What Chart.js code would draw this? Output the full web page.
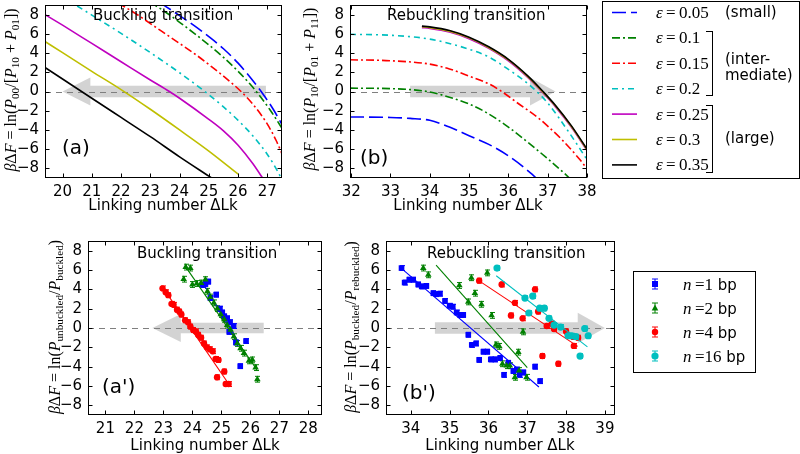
<!DOCTYPE html>
<html><head><meta charset="utf-8">
<script src="https://cdn.jsdelivr.net/npm/chart.js@4.4.1/dist/chart.umd.min.js"></script>
<style>
html,body{margin:0;padding:0;background:#fff;}
body{width:800px;height:454px;position:relative;overflow:hidden;font-family:'DejaVu Sans',sans-serif;color:#000;}
canvas{position:absolute;}
.t{position:absolute;white-space:nowrap;line-height:1;font-size:15px;}
.lab{position:absolute;white-space:nowrap;line-height:1;font-size:20px;}
.xt{position:absolute;white-space:nowrap;line-height:1;font-size:15px;transform:translateX(-50%);}
.yt{position:absolute;white-space:nowrap;font-family:'Liberation Serif',serif;font-size:16px;line-height:1;transform:translate(-50%,-50%) rotate(-90deg);}
sub{font-size:0.7em;vertical-align:-0.3em;line-height:0;}
.box{position:absolute;border:1px solid #000;box-sizing:border-box;background:#fff;}
.m{font-family:'Liberation Serif',serif;font-size:17px;}
.br{position:absolute;border:1px solid #000;border-left:none;box-sizing:border-box;}
</style></head><body>

<div class="box" style="left:602px;top:1px;width:198px;height:178px"></div>
<div class="box" style="left:633px;top:271px;width:123px;height:102px"></div>
<canvas id="cA"></canvas>
<canvas id="cB"></canvas>
<canvas id="cA2"></canvas>
<canvas id="cB2"></canvas>
<svg id="legSvg" width="800" height="454" style="position:absolute;left:0;top:0"></svg>
<div id="texts"></div>

<script>
// ---------------- DATA ----------------
const ticksA  = [20,21,22,23,24,25,26,27];
const ticksB  = [32,33,34,35,36,37,38];
const ticksA2 = [21,22,23,24,25,26,27,28];
const ticksB2 = [34,35,36,37,38,39];
const ticksY  = [-8,-6,-4,-2,0,2,4,6,8];

const epsLabels = ['0.05','0.1','0.15','0.2','0.25','0.3','0.35'];
const nLabels = ['1','2','4','16'];

// (a) buckling transition curves  [ΔLk, βΔF]
const aEps005 = [[23.3,9.3],[24.0,7.9],[24.5,6.85],[25.0,5.7],[25.5,4.45],[26.0,2.95],[26.5,1.15],[26.8,-0.05],[27.2,-1.85],[27.6,-4.0]];
const aEps010 = [[23.0,9.3],[23.5,8.3],[24.0,7.2],[24.5,6.05],[25.0,4.85],[25.5,3.55],[26.0,2.1],[26.4,0.8],[26.7,-0.3],[27.1,-1.95],[27.6,-4.3]];
const aEps015 = [[21.9,9.2],[22.5,8.1],[23.37,6.3],[24.0,5.0],[24.57,3.8],[25.0,2.8],[25.5,1.6],[26.1,0.0],[26.5,-1.3],[27.0,-3.4],[27.3,-5.1],[27.6,-7.2]];
const aEps020 = [[20.5,8.9],[21.0,7.95],[22.0,6.05],[23.0,4.05],[24.0,1.95],[24.86,0.0],[25.5,-1.6],[26.0,-3.0],[26.5,-4.6],[27.0,-6.55],[27.35,-8.3],[27.6,-9.8]];
const aEps025 = [[19.4,8.0],[20.0,6.9],[21.0,5.0],[22.0,3.1],[23.0,1.2],[23.65,0.0],[24.0,-0.7],[25.0,-2.9],[25.5,-4.1],[26.0,-5.6],[26.5,-7.5],[26.9,-9.3]];
const aEps030 = [[19.4,5.2],[20.0,4.05],[21.0,2.1],[22.0,0.2],[23.0,-1.85],[24.0,-4.0],[25.0,-6.2],[26.0,-8.6]];
const aEps035 = [[19.4,2.5],[20.0,1.3],[21.0,-0.7],[22.0,-2.7],[23.0,-4.7],[24.0,-6.8],[25.0,-8.8],[25.3,-9.4]];

// (b) rebuckling transition curves
const bEps005 = [[31.97,-2.65],[33.0,-2.7],[33.5,-2.8],[34.0,-3.0],[34.5,-3.7],[35.0,-4.6],[35.5,-5.5],[36.0,-6.7],[36.6,-8.6],[36.85,-9.6]];
const bEps010 = [[31.97,0.35],[33.0,0.3],[33.5,0.2],[34.0,-0.05],[34.5,-0.6],[35.0,-1.3],[35.4,-2.1],[36.0,-3.7],[36.5,-5.3],[37.0,-7.0],[37.5,-8.8],[37.8,-10.0]];
const bEps015 = [[31.97,3.3],[33.0,3.2],[34.0,2.85],[34.5,2.35],[35.0,1.6],[35.5,0.8],[35.83,0.0],[36.2,-1.1],[36.76,-2.75],[37.0,-3.6],[37.36,-5.0],[37.8,-7.0],[38.05,-8.3]];
const bEps020 = [[31.97,5.95],[33.0,5.85],[34.0,5.45],[35.0,4.4],[35.5,3.6],[36.0,2.3],[36.5,0.8],[36.72,0.0],[37.0,-1.2],[37.5,-4.0],[38.05,-7.4]];
const bEps025 = [[33.8,6.65],[34.0,6.57],[34.5,6.2],[35.0,5.5],[35.5,4.5],[36.0,3.2],[36.5,1.45],[36.88,-0.15],[37.2,-1.6],[37.6,-3.7],[38.05,-6.45]];
const bEps030 = [[33.8,6.73],[34.0,6.65],[34.5,6.28],[35.0,5.58],[35.5,4.58],[36.0,3.28],[36.5,1.53],[36.88,-0.07],[37.2,-1.52],[37.6,-3.62],[38.05,-6.37]];
const bEps035 = [[33.8,6.8],[34.0,6.72],[34.5,6.35],[35.0,5.65],[35.5,4.65],[36.0,3.35],[36.5,1.6],[36.88,0.0],[37.2,-1.45],[37.6,-3.55],[38.05,-6.3]];

// (a') simulation points, buckling
const a2N1 = [[24.35,4.45],[24.45,4.55],[24.55,4.8],[24.62,3.1],[24.82,3.45],[24.95,2.0],[25.03,1.6],[25.1,1.2],[25.2,1.0],[25.3,0.6],[25.42,0.2],[25.27,-0.4],[25.5,-1.5],[25.85,-1.35],[25.65,-3.95]];
const a2N2 = [[23.77,6.3],[23.93,6.2],[23.7,5.05],[24.0,4.5],[24.15,4.6],[24.3,4.65],[24.45,5.0],[24.52,3.8],[24.62,3.2],[24.74,2.6],[24.86,2.0],[24.98,1.4],[25.1,0.9],[25.2,0.3],[25.32,-0.2],[25.43,-0.9],[25.55,-1.6],[25.66,-2.1],[25.78,-2.6],[25.95,-3.4],[26.07,-3.3],[26.18,-4.1],[26.24,-5.3]];
const a2N4 = [[22.97,4.1],[23.08,3.7],[23.17,3.4],[23.28,2.5],[23.35,2.4],[23.47,1.9],[23.55,1.7],[23.62,1.4],[23.75,0.8],[23.85,0.6],[23.93,0.15],[24.03,-0.2],[24.12,-0.35],[24.2,-0.7],[24.3,-1.0],[24.4,-1.6],[24.5,-2.0],[24.6,-2.2],[24.7,-2.4],[24.8,-3.2],[24.9,-3.3],[24.85,-5.1],[25.1,-4.5],[25.15,-5.8],[25.25,-5.8]];
const a2FitN1 = [[24.35,4.7],[25.6,-1.5]];
const a2FitN2 = [[23.75,6.4],[26.2,-4.2]];
const a2FitN4 = [[23.0,4.1],[25.3,-6.0]];

// (b') simulation points, rebuckling
const b2N1 = [[33.76,6.2],[33.84,4.7],[33.96,5.0],[34.06,5.0],[34.19,4.5],[34.28,4.3],[34.4,4.35],[34.58,3.6],[34.66,3.5],[34.75,3.55],[34.88,2.8],[35.0,2.3],[35.08,2.2],[35.18,1.6],[35.27,1.35],[35.35,1.35],[35.48,-0.7],[35.57,-1.75],[35.68,-1.6],[35.76,-3.3],[35.87,-2.45],[35.97,-2.45],[36.06,-3.25],[36.17,-3.25],[36.3,-3.1],[36.4,-4.85],[36.51,-3.6],[36.64,-4.45],[36.73,-4.3],[36.8,-4.85],[36.9,-4.6],[37.2,-4.0],[37.33,-5.5]];
const b2N2 = [[34.32,6.2],[34.45,5.5],[35.25,4.4],[35.56,5.2],[35.97,5.7],[35.65,3.6],[35.48,2.7],[35.82,2.45],[36.08,1.3],[36.89,-0.4],[36.19,-1.75],[36.28,-1.9],[36.36,-3.7],[36.47,-3.9],[36.55,-3.9],[36.77,-2.5],[36.68,-5.1],[36.79,-4.4],[36.98,-5.1]];
const b2N4 = [[35.76,4.9],[36.34,4.5],[36.68,2.6],[36.58,1.3],[36.88,1.0],[37.2,4.0],[37.28,1.7],[37.39,-2.9],[37.5,0.2],[37.63,0.45],[37.69,-0.1],[37.8,-3.7],[38.0,-0.35],[38.18,-0.9],[38.2,-1.85],[38.31,-1.0]];
const b2N16 = [[36.22,6.2],[36.94,3.1],[37.14,3.3],[37.04,1.55],[37.32,2.05],[37.44,2.05],[37.56,1.0],[37.69,0.3],[37.86,0.1],[38.05,-0.8],[38.14,-0.8],[38.25,-0.9],[38.36,-2.9],[38.48,-0.05],[38.57,-0.8]];
const b2FitN1 = [[33.75,6.2],[37.3,-6.1]];
const b2FitN2 = [[34.65,6.5],[37.0,-4.1]];
const b2FitN4 = [[35.75,4.9],[38.3,-1.9]];
const b2FitN16 = [[36.2,5.4],[38.55,-1.95]];

// error bar half-widths (βΔF units)
const errN1 = 0.25, errN2 = 0.3, errN4 = 0.25, errN16 = 0.25;

// ---------------- STYLE ----------------
const epsColors = ['#0000ff','#008000','#ff0000','#00bfbf','#bf00bf','#bfbf00','#000000'];
const epsDash = [[14,5],[8,3,2,3],[8,3,2,3],[6,4,2,4],[],[],[]];
const nColors = ['#0000ff','#008000','#ff0000','#00bfbf'];
const nStyles = ['rect','triangle','circle','circle'];
const nRadius = [4,3.8,3.2,3.6];

Chart.defaults.font.family = "'DejaVu Sans', sans-serif";
Chart.defaults.font.size = 15;
Chart.defaults.color = '#000';

const toXY = arr => arr.map(p => ({x:p[0], y:p[1]}));
const minus = v => v < 0 ? '\u2212' + Math.abs(v) : String(v);

const arrowPlugin = {
  id: 'arrow',
  beforeDatasetsDraw(chart, args, o) {
    const {ctx, chartArea: a} = chart; const x = chart.scales.x, y = chart.scales.y;
    const X = v => x.getPixelForValue(v), Y = v => y.getPixelForValue(v);
    ctx.save();
    ctx.beginPath(); ctx.rect(a.left, a.top, a.width, a.height); ctx.clip();
    if (o && o.tip !== undefined) {
      ctx.fillStyle = o.color;
      ctx.beginPath();
      ctx.moveTo(X(o.tail), Y(o.body));
      ctx.lineTo(X(o.base), Y(o.body));
      ctx.lineTo(X(o.base), Y(o.head));
      ctx.lineTo(X(o.tip), Y(0));
      ctx.lineTo(X(o.base), Y(-o.head));
      ctx.lineTo(X(o.base), Y(-o.body));
      ctx.lineTo(X(o.tail), Y(-o.body));
      ctx.closePath(); ctx.fill();
    }
    ctx.strokeStyle = '#7f7f7f'; ctx.lineWidth = 1; ctx.setLineDash([6,5]);
    const y0 = Math.round(Y(0)) + 0.5;
    ctx.beginPath(); ctx.moveTo(a.left, y0); ctx.lineTo(a.right, y0); ctx.stroke();
    ctx.restore();
  }
};

const errorBarPlugin = {
  id: 'errbars',
  beforeDatasetsDraw(chart) {
    const {ctx} = chart; const x = chart.scales.x, y = chart.scales.y;
    chart.data.datasets.forEach(ds => {
      if (!ds.err) return;
      ctx.save(); ctx.strokeStyle = ds.borderColor; ctx.lineWidth = 1;
      ctx.beginPath();
      ds.data.forEach(p => {
        const px = Math.round(x.getPixelForValue(p.x)) + 0.5;
        const y1 = y.getPixelForValue(p.y - ds.err), y2 = y.getPixelForValue(p.y + ds.err);
        ctx.moveTo(px, y1); ctx.lineTo(px, y2);
        ctx.moveTo(px - 2.5, y1); ctx.lineTo(px + 2.5, y1);
        ctx.moveTo(px - 2.5, y2); ctx.lineTo(px + 2.5, y2);
      });
      ctx.stroke(); ctx.restore();
    });
  }
};

const framePlugin = {
  id: 'frame',
  afterDatasetsDraw(chart) {
    const {ctx, chartArea: a} = chart; const x = chart.scales.x, y = chart.scales.y;
    const L = Math.round(a.left) + 0.5, R = Math.round(a.right) - 0.5, T = Math.round(a.top) + 0.5, B = Math.round(a.bottom) - 0.5;
    ctx.save(); ctx.strokeStyle = '#000'; ctx.lineWidth = 1; ctx.setLineDash([]);
    ctx.beginPath();
    x.ticks.forEach(t => { const p = Math.round(x.getPixelForValue(t.value)) + 0.5; ctx.moveTo(p, B); ctx.lineTo(p, B - 4); ctx.moveTo(p, T); ctx.lineTo(p, T + 4); });
    y.ticks.forEach(t => { const p = Math.round(y.getPixelForValue(t.value)) + 0.5; ctx.moveTo(L, p); ctx.lineTo(L + 4, p); ctx.moveTo(R, p); ctx.lineTo(R - 4, p); });
    ctx.stroke();
    ctx.strokeRect(L, T, R - L, B - T);
    ctx.restore();
  }
};

function makeChart(id, rect, xr, xt, datasets, arrow) {
  const padL = 50, padR = 16, padT = 12, padB = 30;
  const c = document.getElementById(id);
  const W = rect.r - rect.l + padL + padR, H = rect.b - rect.t + padT + padB;
  c.style.left = (rect.l - padL) + 'px'; c.style.top = (rect.t - padT) + 'px';
  c.width = W; c.height = H; c.style.width = W + 'px'; c.style.height = H + 'px';
  return new Chart(c, {
    type: 'scatter',
    data: {datasets},
    options: {
      responsive: false, animation: false, devicePixelRatio: 1,
      layout: {padding: {left: 0, top: padT, right: padR, bottom: 0}},
      plugins: {legend: {display: false}, tooltip: {enabled: false}, arrow: arrow},
      scales: {
        x: {type: 'linear', min: xr[0], max: xr[1],
            afterFit(s) { s.height = padB; },
            afterBuildTicks(s) { s.ticks = xt.map(v => ({value: v})); },
            grid: {display: false, drawTicks: false}, border: {display: false},
            ticks: {padding: 5, maxRotation: 0, autoSkip: false, color: '#000'}},
        y: {type: 'linear', min: -9, max: 9,
            afterFit(s) { s.width = padL; },
            afterBuildTicks(s) { s.ticks = ticksY.map(v => ({value: v})); },
            grid: {display: false, drawTicks: false}, border: {display: false},
            ticks: {padding: 6, autoSkip: false, color: '#000', callback: v => minus(v)}}
      }
    },
    plugins: [arrowPlugin, errorBarPlugin, framePlugin]
  });
}

function curveSets(list) {
  // list in plotting order; Chart.js draws index 0 on top, so reverse
  return list.map((pts, i) => ({
    data: toXY(pts), showLine: true, pointRadius: 0, borderColor: epsColors[i], borderWidth: 1.6,
    borderDash: epsDash[i], cubicInterpolationMode: 'monotone', fill: false
  })).reverse();
}
function simSets(points, fits) {
  const errs = [errN1, errN2, errN4, errN16];
  const out = [];
  points.forEach((pts, i) => {
    if (!pts) return;
    out.push({data: toXY(pts), showLine: false, pointStyle: nStyles[i], pointRadius: nRadius[i],
      backgroundColor: nColors[i], borderColor: nColors[i], borderWidth: 0, err: errs[i]});
    if (fits[i]) out.push({data: toXY(fits[i]), showLine: true, pointRadius: 0, borderColor: nColors[i], borderWidth: 1.1, fill: false});
  });
  return out.reverse();
}

const arrowColor = 'rgba(150,150,150,0.42)';
makeChart('cA', {l:45, t:2, r:282, b:178}, [19.4, 27.5], ticksA,
  curveSets([aEps005, aEps010, aEps015, aEps020, aEps025, aEps030, aEps035]),
  {tail: 26.95, base: 20.95, tip: 20.0, body: 0.6, head: 1.45, color: arrowColor});
makeChart('cB', {l:350, t:2, r:587, b:178}, [31.97, 38.0], ticksB,
  curveSets([bEps005, bEps010, bEps015, bEps020, bEps025, bEps030, bEps035]),
  {tail: 33.5, base: 36.55, tip: 37.2, body: 0.6, head: 1.45, color: arrowColor});
makeChart('cA2', {l:88, t:238, r:322, b:415}, [20.4, 28.47], ticksA2,
  simSets([a2N1, a2N2, a2N4, null], [a2FitN1, a2FitN2, a2FitN4, null]),
  {tail: 26.46, base: 23.6, tip: 22.62, body: 0.54, head: 1.45, color: arrowColor});
makeChart('cB2', {l:386, t:238, r:615, b:415}, [33.36, 39.26], ticksB2,
  simSets([b2N1, b2N2, b2N4, b2N16], [b2FitN1, b2FitN2, b2FitN4, b2FitN16]),
  {tail: 34.62, base: 38.3, tip: 39.0, body: 0.59, head: 1.58, color: arrowColor});

// ---------------- TEXT & LEGENDS ----------------
const T = document.getElementById('texts');
function add(html, cls, style) { const d = document.createElement('div'); d.className = cls; d.style.cssText = style; d.innerHTML = html; T.appendChild(d); }

add('Buckling transition', 't', 'left:93px;top:8px');
add('Rebuckling transition', 't', 'left:387px;top:8px');
add('Buckling transition', 't', 'left:137px;top:246px');
add('Rebuckling transition', 't', 'left:427px;top:246px');
add('(a)', 'lab', 'left:62px;top:137px');
add('(b)', 'lab', 'left:360px;top:147px');
add("(a')", 'lab', 'left:102px;top:376px');
add("(b')", 'lab', 'left:402px;top:382px');
add('Linking number \u0394Lk', 'xt', 'left:163px;top:198px');
add('Linking number \u0394Lk', 'xt', 'left:468px;top:198px');
add('Linking number \u0394Lk', 'xt', 'left:205px;top:438px');
add('Linking number \u0394Lk', 'xt', 'left:500px;top:438px');
add('<i>β</i>Δ<i>F</i> = ln(<i>P</i><sub>00</sub>/[<i>P</i><sub>10</sub> + <i>P</i><sub>01</sub>])', 'yt', 'left:11px;top:90px');
add('<i>β</i>Δ<i>F</i> = ln(<i>P</i><sub>10</sub>/[<i>P</i><sub>01</sub> + <i>P</i><sub>11</sub>])', 'yt', 'left:310px;top:89px');
add('<i>β</i>Δ<i>F</i> = ln(<i>P</i><sub>unbuckled</sub>/<i>P</i><sub>buckled</sub>)', 'yt', 'left:55px;top:327px');
add('<i>β</i>Δ<i>F</i> = ln(<i>P</i><sub>buckled</sub>/<i>P</i><sub>rebuckled</sub>)', 'yt', 'left:351px;top:327px');

// top legend
let svg = '';
epsLabels.forEach((lab, i) => {
  const y = 12.5 + i * 25.4;
  svg += `<line x1="612" y1="${y}" x2="637" y2="${y}" stroke="${epsColors[i]}" stroke-width="1.6" stroke-dasharray="${epsDash[i].join(' ') || 'none'}"/>`;
  add(`<i>ε</i>&thinsp;=&thinsp;${lab}`, 'm t', `left:656px;top:${y - 8.5}px;font-size:17px`);
});
add('(small)', 't', 'left:725px;top:5px');
add('(inter-', 't', 'left:725px;top:52px');
add('mediate)', 't', 'left:725px;top:68px');
add('(large)', 't', 'left:725px;top:131px');
add('', 'br', 'left:706px;top:31px;width:7px;height:65px');
add('', 'br', 'left:706px;top:105px;width:7px;height:68px');

// bottom legend
nLabels.forEach((lab, i) => {
  const y = 284 + i * 24, x = 655, c = nColors[i];
  svg += `<line x1="${x}" y1="${y - 5}" x2="${x}" y2="${y + 5}" stroke="${c}" stroke-width="1"/>`;
  svg += `<line x1="${x - 3}" y1="${y - 5}" x2="${x + 3}" y2="${y - 5}" stroke="${c}"/><line x1="${x - 3}" y1="${y + 5}" x2="${x + 3}" y2="${y + 5}" stroke="${c}"/>`;
  if (nStyles[i] === 'rect') svg += `<rect x="${x - 3}" y="${y - 3}" width="6" height="6" fill="${c}"/>`;
  else if (nStyles[i] === 'triangle') svg += `<polygon points="${x},${y - 3.5} ${x + 3.3},${y + 2.5} ${x - 3.3},${y + 2.5}" fill="${c}"/>`;
  else svg += `<circle cx="${x}" cy="${y}" r="${nRadius[i]}" fill="${c}"/>`;
  add(`<span class="m" style="font-size:17px"><i>n</i>&thinsp;=${lab}</span> bp`, 't', `left:683px;top:${y - 8}px`);
});
document.getElementById('legSvg').innerHTML = svg;
</script>
</body></html>
